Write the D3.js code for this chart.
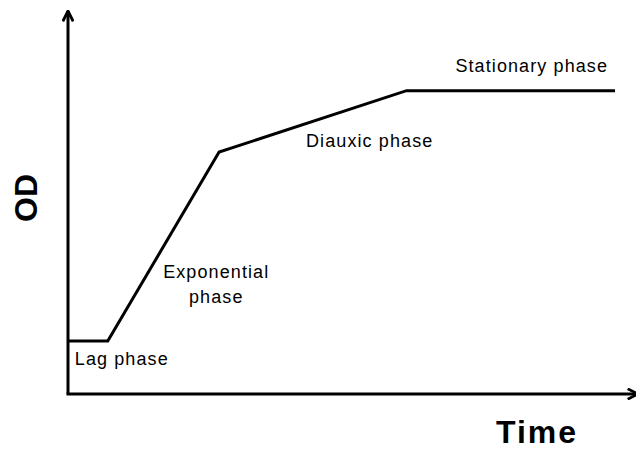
<!DOCTYPE html>
<html>
<head>
<meta charset="utf-8">
<script src="https://cdn.jsdelivr.net/npm/d3@7"></script>
<style>
  body { margin: 0; background: #fff; }
  svg { display: block; }
  .phase { font-family: Arial, "Liberation Sans", sans-serif; font-size: 18px; letter-spacing: 1.1px; fill: #000; }
  .axis-title { font-family: Arial, "Liberation Sans", sans-serif; font-weight: bold; font-size: 32px; fill: #000; }
</style>
</head>
<body>
<div id="chart"></div>
<script>
// growth curve breakpoints (arbitrary units, 0-100)
var time = [0, 7, 26.6, 59.6, 96.3];
var od = [13.8, 13.8, 63, 79, 79];

// phase labels
var phaseNames = ["Lag phase", "Exponential phase", "Diauxic phase", "Stationary phase"];
var phaseTime = [1.2, 26.1, 41.9, 68.2];
var phaseOd = [7.5, 30.3, 64.3, 83.8];

var width = 636,
    height = 450;

var margin = { top: 10, right: 0, bottom: 56, left: 68 };

var svg = d3.select("#chart").append("svg")
    .attr("width", width)
    .attr("height", height);

var x = d3.scaleLinear()
    .domain([0, 100])
    .range([margin.left, width - margin.right]);

var y = d3.scaleLinear()
    .domain([0, 100])
    .range([height - margin.bottom, margin.top]);

var defs = svg.append("defs");
defs.append("marker")
    .attr("id", "arrow")
    .attr("viewBox", "0 0 10 10")
    .attr("refX", 9)
    .attr("refY", 5)
    .attr("markerWidth", 4.3)
    .attr("markerHeight", 4.3)
    .attr("markerUnits", "strokeWidth")
    .attr("orient", "auto")
    .append("path")
    .attr("d", "M1,1 L9,5 L1,9")
    .attr("fill", "none")
    .attr("stroke", "#000")
    .attr("stroke-width", 2.2)
    .attr("stroke-linejoin", "miter");

// axes (no ticks, just arrows)
svg.append("line")
    .attr("x1", x(0)).attr("y1", y(0))
    .attr("x2", x(0)).attr("y2", y(100) + 1)
    .attr("stroke", "#000")
    .attr("stroke-width", 3)
    .attr("marker-end", "url(#arrow)");

svg.append("line")
    .attr("x1", x(0) - 1.5).attr("y1", y(0))
    .attr("x2", x(100) + 2).attr("y2", y(0))
    .attr("stroke", "#000")
    .attr("stroke-width", 3)
    .attr("marker-end", "url(#arrow)");

var pts = time.map(function(t, i) { return { t: t, v: od[i] }; });

var line = d3.line()
    .x(function(d) { return x(d.t); })
    .y(function(d) { return y(d.v); });

svg.append("path")
    .datum(pts)
    .attr("d", line)
    .attr("fill", "none")
    .attr("stroke", "#000")
    .attr("stroke-width", 3)
    .attr("stroke-linejoin", "miter");

// phase labels
phaseNames.forEach(function(name, i) {
    var words = name == "Exponential phase" ? ["Exponential", "phase"] : [name];
    var anchor = words.length > 1 ? "middle" : "start";
    var t = svg.append("text")
        .attr("class", "phase")
        .attr("text-anchor", anchor)
        .attr("x", x(phaseTime[i]))
        .attr("y", y(phaseOd[i]));
    words.forEach(function(w, j) {
        t.append("tspan")
            .attr("x", x(phaseTime[i]))
            .attr("dy", j == 0 ? 0 : 25)
            .text(w);
    });
});

// axis titles
svg.append("text")
    .attr("class", "axis-title")
    .attr("text-anchor", "middle")
    .attr("letter-spacing", "2px")
    .attr("x", 537)
    .attr("y", 443)
    .text("Time");

svg.append("text")
    .attr("class", "axis-title")
    .attr("text-anchor", "middle")
    .attr("transform", "translate(37,198) rotate(-90)")
    .text("OD");
</script>
</body>
</html>
